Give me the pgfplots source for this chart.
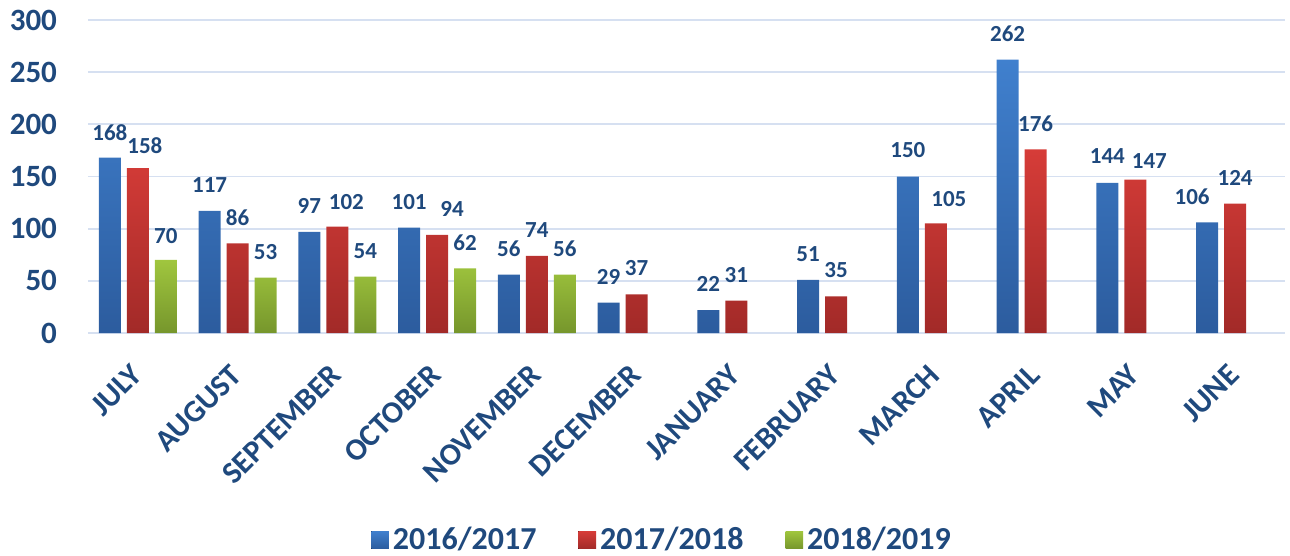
\documentclass[border=0pt]{standalone}
\usepackage{pgfplots}
\pgfplotsset{compat=1.18}
\usepackage{fontspec}
\setmainfont{Carlito}
\definecolor{txt}{RGB}{31,73,125}
\definecolor{gridc}{RGB}{214,224,241}
\definecolor{bluetop}{RGB}{64,128,206}
\definecolor{bluebot}{RGB}{44,92,158}
\definecolor{redtop}{RGB}{214,60,56}
\definecolor{redbot}{RGB}{162,42,40}
\definecolor{greentop}{RGB}{160,198,62}
\definecolor{greenbot}{RGB}{118,150,44}
\begin{document}
\begin{tikzpicture}
\useasboundingbox (-44pt,-111.5pt) rectangle (601pt,166.5pt);
\begin{axis}[
  at={(0,0)}, anchor=south west,
  scale only axis,
  width=598.5pt, height=156.5pt,
  xmin=-0.5, xmax=11.5,
  ymin=0, ymax=300,
  ytick={0,50,100,150,200,250,300},
  xtick={0,...,11},
  xticklabels={JULY,AUGUST,SEPTEMBER,OCTOBER,NOVEMBER,DECEMBER,JANUARY,FEBRUARY,MARCH,APRIL,MAY,JUNE},
  axis line style={draw=none},
  tick style={draw=none},
  ymajorgrids,
  grid style={gridc, line width=0.9pt},
  /pgf/number format/assume math mode=true,
  yticklabel style={font=\fontsize{15.5}{16}\selectfont\bfseries, text=txt, anchor=east, xshift=-12pt},
  xticklabel style={font=\fontsize{15.5}{16}\selectfont\bfseries, text=txt, rotate=45, anchor=north east, yshift=-1pt, xshift=-7pt},
  ybar, bar width=11pt,
  nodes near coords,
  visualization depends on={value \thisrow{dx} \as \dx},
  visualization depends on={value \thisrow{dy} \as \dy},
  every node near coord/.append style={font=\fontsize{11.5}{12}\selectfont\bfseries, text=txt, anchor=center, xshift=\dx pt, yshift=\dy pt},
  legend columns=3,
  legend style={draw=none, at={(0.4804,-0.6613)}, anchor=center, font=\fontsize{16}{17}\selectfont\bfseries, text=txt,
     /tikz/every even column/.append style={column sep=19pt}},
  legend image code/.code={\fill[#1] (0pt,-4.4pt) rectangle (8.8pt,4.4pt);},
]
\addplot[draw=none, top color=bluetop, bottom color=bluebot, bar shift=-14pt] table[x=x, y=y, meta=y] {
x y dx dy
0 168 0 12.5
1 117 0 13
2 97 0 13
3 101 0 13
4 56 0 13
5 29 0 13
6 22 0 13
7 51 0 13
8 150 0 13
9 262 0 13
10 144 0 13.5
11 106 -7.5 13
};
\addplot[draw=none, top color=redtop, bottom color=redbot, bar shift=0pt] table[x=x, y=y, meta=y] {
x y dx dy
0 158 3.5 11.5
1 86 0 13
2 102 4.5 12.5
3 94 7.5 13
4 74 0 13
5 37 0 13
6 31 0 13
7 35 0 13
8 105 6.5 12
9 176 0 13
10 147 7 9.5
11 124 0 13
};
\addplot[draw=none, top color=greentop, bottom color=greenbot, bar shift=14pt] table[x=x, y=y, meta=y] {
x y dx dy
0 70 0 12
1 53 0 13
2 54 0 13
3 62 0 13
4 56 0 13
};
\legend{2016/2017,2017/2018,2018/2019}
\end{axis}
\end{tikzpicture}
\end{document}
